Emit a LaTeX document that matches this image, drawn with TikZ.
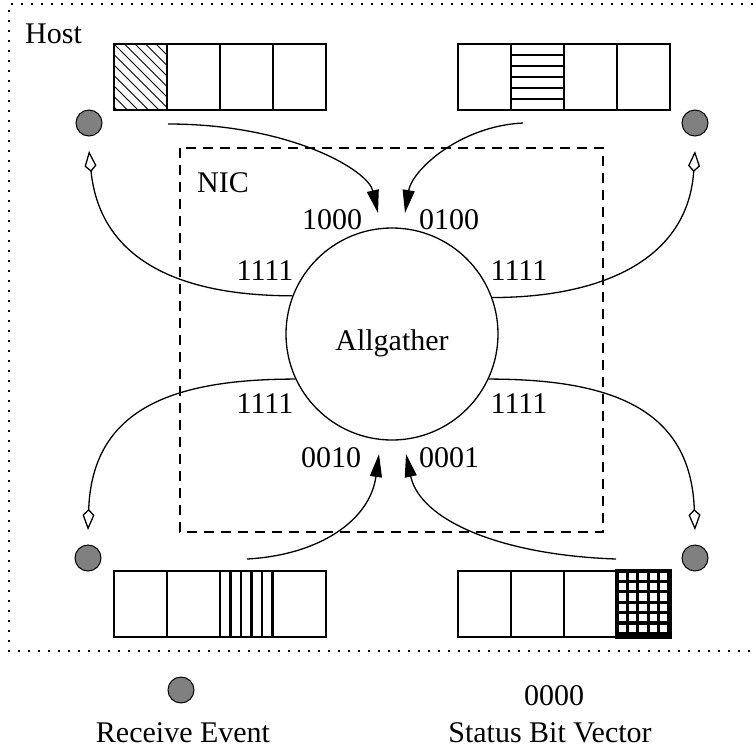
\documentclass[tikz,border=0pt]{standalone}
\usepackage{fontspec}
\setmainfont{Liberation Serif}
\usetikzlibrary{arrows.meta}
\definecolor{evgray}{gray}{0.5}
\begin{document}
\begin{tikzpicture}[x=1pt,y=-1pt,
  every node/.style={font=\fontsize{30}{36}\selectfont, inner sep=0pt},
  lbl/.style={anchor=base},
  cell/.style={draw, line width=1.2pt, minimum width=53pt, minimum height=66pt},
  event/.style={circle, draw, line width=1pt, fill=evgray, minimum size=26pt},
  sendarrow/.style={line width=1.3pt, -{Triangle[length=23pt,width=12pt]}},
  notify/.style={line width=1.3pt, -{Kite[open,length=21pt,width=12pt,inset=6pt]}},
  hatch/.style={line width=0.9pt},
  bar/.style={line width=2.8pt},
  gridbar/.style={line width=3.1pt},
  hostframe/.style={line width=1.6pt, dash pattern=on 1.6pt off 8.4pt},
  nicframe/.style={line width=1.2pt, dash pattern=on 10pt off 7pt},
]
\useasboundingbox (0,0) rectangle (753,748);

% host and NIC regions
\draw[hostframe] (753,4) -- (9,4) -- (9,651) -- (753,651);
\node[anchor=base west] (host) at (25,43) {Host};
\draw[nicframe] (180,148) rectangle (603,532);
\node[anchor=base west] (nic) at (197,192) {NIC};

% collective operation on the NIC
\node[circle, draw, line width=1.3pt, minimum size=212pt,
      text height=32pt, text depth=0pt] (allg) at (392,334) {Allgather};

% buffer cells
\foreach \i in {1,...,4} {
  \path (114+53*\i-26.5,77) coordinate (cTL\i);
  \path (458+53*\i-26.5,77) coordinate (cTR\i);
  \path (114+53*\i-26.5,604) coordinate (cBL\i);
  \path (458+53*\i-26.5,604) coordinate (cBR\i);
}

% fill patterns of the received pieces
\begin{scope}
  \clip (114,44) rectangle (167,110);
  \foreach \k in {-7,...,6}
    \draw[hatch] (114+\k*10.5,44) -- ++(66,66);
\end{scope}
\foreach \k in {0,...,6}
  \draw[bar] (511,44+\k*11) -- (564,44+\k*11);
\draw[bar] (511,44) -- (511,110) (564,44) -- (564,110);
\foreach \k in {1,...,5}
  \draw[bar] (220+\k*10.5,571) -- (220+\k*10.5,637);
\begin{scope}
  \clip (617,571) rectangle (670,637);
  \foreach \k in {0,...,5}
    \draw[gridbar] (617+\k*10.4,571) -- (617+\k*10.4,637);
  \foreach \k in {0,...,6}
    \draw[gridbar] (617,571+\k*10.4) -- (670,571+\k*10.4);
\end{scope}
\draw[gridbar] (617,571) rectangle (670,637);

\foreach \i in {1,...,4} {
  \node[cell] (bTL\i) at (cTL\i) {};
  \node[cell] (bTR\i) at (cTR\i) {};
  \node[cell] (bBL\i) at (cBL\i) {};
  \node[cell] (bBR\i) at (cBR\i) {};
}

% receive events
\node[event] (evTL) at (89,123) {};
\node[event] (evTR) at (695,123) {};
\node[event] (evBL) at (88,558) {};
\node[event] (evBR) at (695,558) {};

% status bit vectors
\node[lbl] (s1) at (332,229) {1000};
\node[lbl] (s2) at (449,229) {0100};
\node[lbl] (s3) at (331,467) {0010};
\node[lbl] (s4) at (449,467) {0001};
\node[lbl] (s5) at (265,280) {1111};
\node[lbl] (s6) at (519,280) {1111};
\node[lbl] (s7) at (265,413) {1111};
\node[lbl] (s8) at (519,413) {1111};

% connector end points
\coordinate (a1s) at (168,124);  \coordinate (a1e) at (378,213);
\coordinate (a2s) at (523,123);  \coordinate (a2e) at (405,213);
\coordinate (a3s) at (247,559);  \coordinate (a3e) at (379,454);
\coordinate (a4s) at (616,559);  \coordinate (a4e) at (406,454);
\coordinate (k1e) at (89,151);   \coordinate (k2e) at (695,151);
\coordinate (k3e) at (88,530);   \coordinate (k4e) at (695,530);

% data flowing from host buffers into the NIC
\draw[sendarrow] (a1s) .. controls +(122,0) and +(-10,-43) .. (a1e);
\draw[sendarrow] (a2s) .. controls +(-63,3) and +(7,-43) .. (a2e);
\draw[sendarrow] (a3s) .. controls +(73,-4) and +(-9,66) .. (a3e);
\draw[sendarrow] (a4s) .. controls +(-116,-4) and +(14,66) .. (a4e);

% completion notifications back to the host
\draw[notify] (allg.159.6) .. controls +(-113,0) and +(11,109) .. (k1e);
\draw[notify] (allg.20.4) .. controls +(109,0) and +(-7,109) .. (k2e);
\draw[notify] (allg.205.7) .. controls +(-125,0) and +(4,-120) .. (k3e);
\draw[notify] (allg.-25.7) .. controls +(125,0) and +(-4,-120) .. (k4e);

% legend
\node[event] (legev) at (181,690) {};
\node[lbl] (legevtxt) at (183,742) {Receive Event};
\node[lbl] (legbits) at (554,705) {0000};
\node[lbl] (legbitstxt) at (550,742) {Status Bit Vector};
\end{tikzpicture}
\end{document}
